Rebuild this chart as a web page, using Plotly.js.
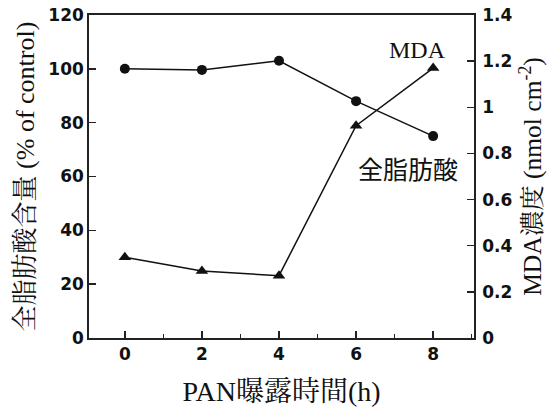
<!DOCTYPE html>
<html><head><meta charset="utf-8">
<script src="https://cdn.plot.ly/plotly-3.0.1.min.js"></script>
<style>html,body{margin:0;padding:0;background:#fff}#chart{width:549px;height:409px}</style>
</head><body><div id="chart"></div>
<script>
const hours = [0, 2, 4, 6, 8];
const fattyAcid = [100, 99.6, 103, 88, 75];
const mda = [0.35, 0.29, 0.27, 0.92, 1.17];
const leftTicks = [0, 20, 40, 60, 80, 100, 120];
const rightTicks = [0, 0.2, 0.4, 0.6, 0.8, 1, 1.2, 1.4];
const xTicks = [0, 2, 4, 6, 8];

const serif = 'Liberation Serif';
const cjk = (s) => '<span style="font-family:Noto Serif CJK JP">' + s + '</span>';
const bold = (v) => '<b>' + v + '</b>';
const tickFont = {family: 'DejaVu Sans', size: 17, color: '#111'};

const traces = [
  {x: hours, y: fattyAcid, yaxis: 'y', mode: 'lines+markers', type: 'scatter',
   line: {color: '#111', width: 1.5}, marker: {symbol: 'circle', size: 10, color: '#111'}},
  {x: hours, y: mda, yaxis: 'y2', mode: 'lines+markers', type: 'scatter',
   line: {color: '#111', width: 1.5}, marker: {symbol: 'triangle-up', size: 11, color: '#111'}}
];

const layout = {
  width: 549, height: 409,
  margin: {l: 89, r: 75, t: 15, b: 71},
  paper_bgcolor: '#fff', plot_bgcolor: '#fff',
  showlegend: false,
  xaxis: {
    range: [-0.93, 9.06], tickvals: xTicks, ticktext: xTicks.map(bold),
    ticks: 'inside', ticklen: 7, tickwidth: 1.5, tickcolor: '#222',
    minor: {dtick: 1, tick0: 0, ticks: 'inside', ticklen: 4, tickwidth: 1.2, tickcolor: '#222', showgrid: false},
    showline: true, linecolor: '#222', linewidth: 1.8, mirror: true,
    showgrid: false, zeroline: false, tickfont: tickFont,
    title: {text: 'PAN' + cjk('曝露時間') + '(h)', font: {family: serif, size: 28, color: '#111'}, standoff: 25}
  },
  yaxis: {
    range: [0, 120], tickvals: leftTicks, ticktext: leftTicks.map(bold),
    ticks: 'inside', ticklen: 7, tickwidth: 1.5, tickcolor: '#222',
    showline: true, linecolor: '#222', linewidth: 1.8,
    showgrid: false, zeroline: false, tickfont: tickFont,
    title: {text: cjk('全脂肪酸含量') + ' (% of control)', font: {family: serif, size: 26, color: '#111'}, standoff: 6}
  },
  yaxis2: {
    range: [0, 1.4], tickvals: rightTicks, ticktext: rightTicks.map(bold),
    overlaying: 'y', side: 'right',
    ticks: 'inside', ticklen: 7, tickwidth: 1.5, tickcolor: '#222',
    showline: true, linecolor: '#222', linewidth: 1.8,
    showgrid: false, zeroline: false, tickfont: tickFont, ticklabelstandoff: 3,
    title: {text: 'MDA' + cjk('濃度') + ' (nmol cm<sup>-2</sup>)', font: {family: serif, size: 25.5, color: '#111'}, standoff: 12}
  },
  annotations: [
    {x: 7.6, y: 107, xref: 'x', yref: 'y', text: 'MDA', showarrow: false,
     font: {family: serif, size: 24, color: '#111'}},
    {x: 7.34, y: 63, xref: 'x', yref: 'y', text: '全脂肪酸', showarrow: false,
     font: {family: 'Noto Sans CJK JP', size: 25, color: '#111'}}
  ]
};

Plotly.newPlot('chart', traces, layout, {displayModeBar: false, staticPlot: true});
</script></body></html>
